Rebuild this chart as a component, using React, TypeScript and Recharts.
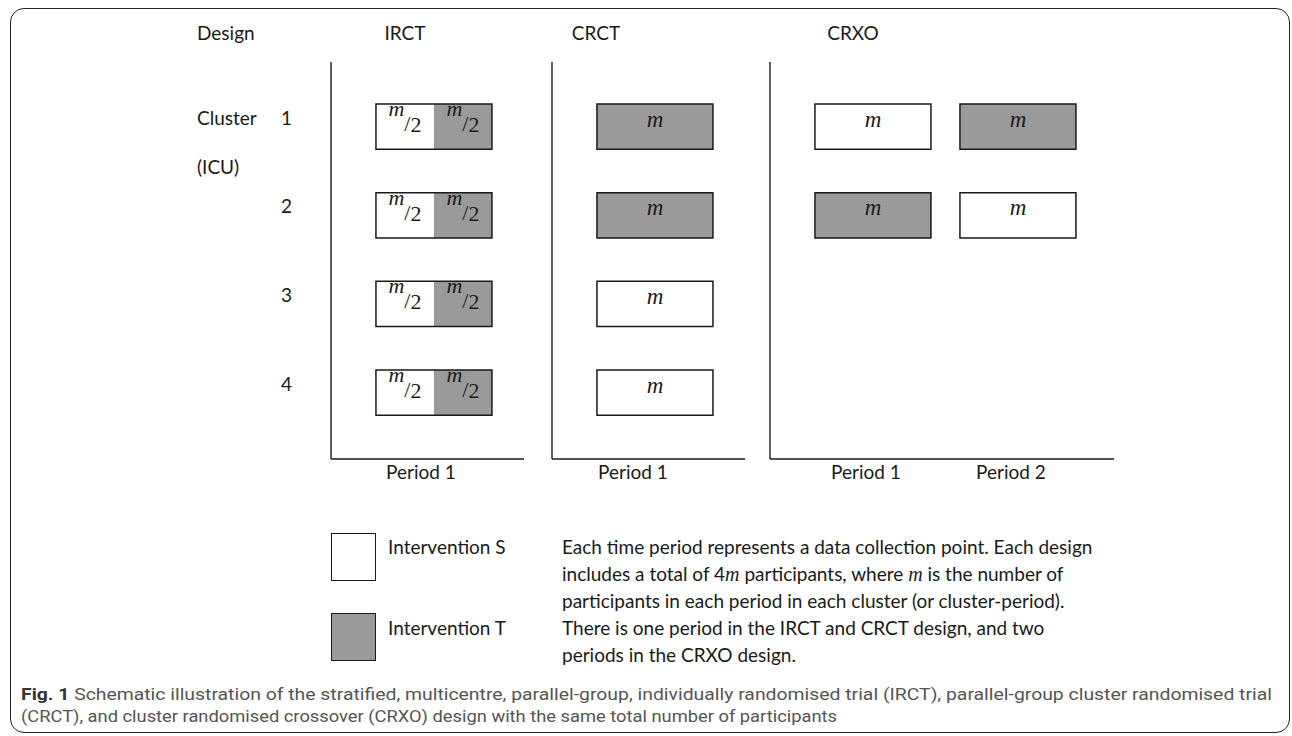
import React from 'react';
import { ComposedChart, Scatter, XAxis, YAxis, ReferenceArea } from 'recharts';

// clusters (ICUs) and periods
const clusters = [1, 2, 3, 4];
const periodLabels = ['Period 1', 'Period 2'];

// arm given to each cluster (row) in each period (column); 'ST' = half S, half T
const irctArms = [['ST'], ['ST'], ['ST'], ['ST']];
const crctArms = [['T'], ['T'], ['S'], ['S']];
const crxoArms = [['S', 'T'], ['T', 'S']];

const legendItems = [
  { arm: 'S', label: 'Intervention S' },
  { arm: 'T', label: 'Intervention T' },
];

// $m$ marks the italic maths symbol
const noteLines = [
  'Each time period represents a data collection point. Each design',
  'includes a total of 4$m$ participants, where $m$ is the number of',
  'participants in each period in each cluster (or cluster-period).',
  'There is one period in the IRCT and CRCT design, and two',
  'periods in the CRXO design.',
];

const captionLines = [
  'Schematic illustration of the stratified, multicentre, parallel-group, individually randomised trial (IRCT), parallel-group cluster randomised trial',
  '(CRCT), and cluster randomised crossover (CRXO) design with the same total number of participants',
];

const FONT = 'Lato, "Open Sans", sans-serif';
const MATH = '"Liberation Serif", "DejaVu Serif", serif';
const INK = '#1a1a1a';
const GREY = '#9a9a9a';
const FILL: Record<string, string> = { S: '#ffffff', T: GREY };

const AXIS_W = 60;
const PX_PER_PERIOD = 145;
const X_MIN = 0.29;
const CELL_HALF_W = 0.4;
const CELL_HALF_H = 0.255;

type Cell = { cluster: number; period: number; arm: string };
type Mark = { x: number; cluster: number; kind: 'm' | 'half' };

const MarkShape = (props: any) => {
  const { cx, cy, payload } = props;
  if (payload.kind === 'half') {
    return (
      <text x={cx} y={cy + 5.5} textAnchor="middle" fontFamily={MATH} fontSize={22} fill={INK}>
        <tspan fontStyle="italic" dy={-16}>m</tspan>
        <tspan dy={15}>/</tspan>
        <tspan dy={1}>2</tspan>
      </text>
    );
  }
  return (
    <text x={cx} y={cy} textAnchor="middle" fontFamily={MATH} fontStyle="italic" fontSize={23} fill={INK}>
      m
    </text>
  );
};

const ClusterTick = (props: any) => (
  <text x={props.x} y={props.y - 2} textAnchor="end" fontFamily={FONT} fontSize={19} fill={INK}>
    {props.payload.value}
  </text>
);

type PanelProps = { arms: string[][]; axisX: number; width: number; showClusters: boolean; tickShift: number };

function Panel({ arms, axisX, width, showClusters, tickShift }: PanelProps) {
  const periods = arms[0].map((_, i) => i + 1);
  const cells: Cell[] = arms.flatMap((row, ci) => row.map((arm, pi) => ({ cluster: clusters[ci], period: pi + 1, arm })));
  const marks: Mark[] = cells.flatMap((c) =>
    c.arm === 'ST'
      ? [
          { x: c.period - CELL_HALF_W / 2, cluster: c.cluster, kind: 'half' as const },
          { x: c.period + CELL_HALF_W / 2, cluster: c.cluster, kind: 'half' as const },
        ]
      : [{ x: c.period, cluster: c.cluster, kind: 'm' as const }]
  );

  return (
    <div style={{ position: 'absolute', left: axisX - AXIS_W, top: 40 }}>
      <ComposedChart width={AXIS_W + width} height={459} margin={{ top: 22, right: 0, bottom: 0, left: 0 }}>
        <XAxis
          type="number"
          dataKey="x"
          domain={[X_MIN, X_MIN + width / PX_PER_PERIOD]}
          allowDataOverflow
          ticks={periods}
          tickFormatter={(v: number) => periodLabels[v - 1]}
          height={40}
          tickLine={false}
          tickSize={0}
          tickMargin={7}
          axisLine={{ stroke: INK, strokeWidth: 1.4 }}
          tick={{ fill: INK, fontSize: 19, fontFamily: FONT, dx: tickShift }}
        />
        <YAxis
          type="number"
          dataKey="cluster"
          domain={[0.27, 4.75]}
          allowDataOverflow
          reversed
          ticks={clusters}
          width={AXIS_W}
          tickLine={false}
          tickSize={0}
          tickMargin={39}
          axisLine={{ stroke: INK, strokeWidth: 1.4 }}
          tick={showClusters ? <ClusterTick /> : false}
        />
        {cells.map((c, i) =>
          c.arm === 'ST' ? (
            <React.Fragment key={i}>
              <ReferenceArea x1={c.period - CELL_HALF_W} x2={c.period} y1={c.cluster - CELL_HALF_H} y2={c.cluster + CELL_HALF_H} fill={FILL.S} fillOpacity={1} stroke="none" />
              <ReferenceArea x1={c.period} x2={c.period + CELL_HALF_W} y1={c.cluster - CELL_HALF_H} y2={c.cluster + CELL_HALF_H} fill={FILL.T} fillOpacity={1} stroke="none" />
              <ReferenceArea x1={c.period - CELL_HALF_W} x2={c.period + CELL_HALF_W} y1={c.cluster - CELL_HALF_H} y2={c.cluster + CELL_HALF_H} fill="none" stroke={INK} strokeWidth={1.5} />
            </React.Fragment>
          ) : (
            <ReferenceArea key={i} x1={c.period - CELL_HALF_W} x2={c.period + CELL_HALF_W} y1={c.cluster - CELL_HALF_H} y2={c.cluster + CELL_HALF_H} fill={FILL[c.arm]} fillOpacity={1} stroke={INK} strokeWidth={1.5} />
          )
        )}
        <Scatter data={marks} shape={MarkShape} isAnimationActive={false} />
      </ComposedChart>
    </div>
  );
}

function Label({ x, y, center, children }: { x: number; y: number; center?: boolean; children: React.ReactNode }) {
  return (
    <div
      style={{
        position: 'absolute',
        left: x,
        top: y - 12,
        lineHeight: '24px',
        fontFamily: FONT,
        fontSize: 19,
        color: INK,
        whiteSpace: 'nowrap',
        transform: center ? 'translateX(-50%)' : undefined,
      }}
    >
      {children}
    </div>
  );
}

function NoteLine({ line }: { line: string }) {
  return (
    <>
      {line.split('$').map((part, i) =>
        i % 2 === 1 ? (
          <span key={i} style={{ fontFamily: MATH, fontStyle: 'italic', fontSize: 20 }}>{part}</span>
        ) : (
          <span key={i}>{part}</span>
        )
      )}
    </>
  );
}

export default function App() {
  return (
    <div style={{ position: 'absolute', left: 0, top: 0, width: 1292, height: 736, background: '#fff', overflow: 'hidden' }}>
      <div
        style={{
          position: 'absolute',
          left: 10,
          top: 8,
          width: 1280,
          height: 725,
          border: '1.5px solid #222',
          borderRadius: 14,
          boxSizing: 'border-box',
        }}
      />

      <Label x={197} y={33}>Design</Label>
      <Label x={405} y={33} center>IRCT</Label>
      <Label x={596} y={33} center>CRCT</Label>
      <Label x={853} y={33} center>CRXO</Label>
      <Label x={197} y={118}>Cluster</Label>
      <Label x={197} y={167}>(ICU)</Label>

      <Panel arms={irctArms} axisX={331} width={193} showClusters tickShift={-13} />
      <Panel arms={crctArms} axisX={552} width={193} showClusters={false} tickShift={-22} />
      <Panel arms={crxoArms} axisX={770} width={344} showClusters={false} tickShift={-7} />

      {legendItems.map((item, i) => (
        <React.Fragment key={item.arm}>
          <div
            style={{
              position: 'absolute',
              left: 331,
              top: 533 + i * 80,
              width: 45,
              height: 48,
              background: FILL[item.arm],
              border: `1.4px solid ${INK}`,
              boxSizing: 'border-box',
            }}
          />
          <Label x={388} y={547 + i * 81}>{item.label}</Label>
        </React.Fragment>
      ))}

      {noteLines.map((line, i) => (
        <Label key={i} x={562} y={547 + i * 27}>
          <NoteLine line={line} />
        </Label>
      ))}

      <svg style={{ position: 'absolute', left: 0, top: 673 }} width={1292} height={63}>
        <text x={21} y={27} fontFamily='"Liberation Sans Narrow", Roboto, sans-serif' fontSize={16} fill="#555" textLength={1251} lengthAdjust="spacingAndGlyphs">
          <tspan fontWeight="bold" fill="#333">Fig. 1</tspan> {captionLines[0]}
        </text>
        <text x={21} y={49} fontFamily='"Liberation Sans Narrow", Roboto, sans-serif' fontSize={16} fill="#555" textLength={816} lengthAdjust="spacingAndGlyphs">
          {captionLines[1]}
        </text>
      </svg>
    </div>
  );
}
